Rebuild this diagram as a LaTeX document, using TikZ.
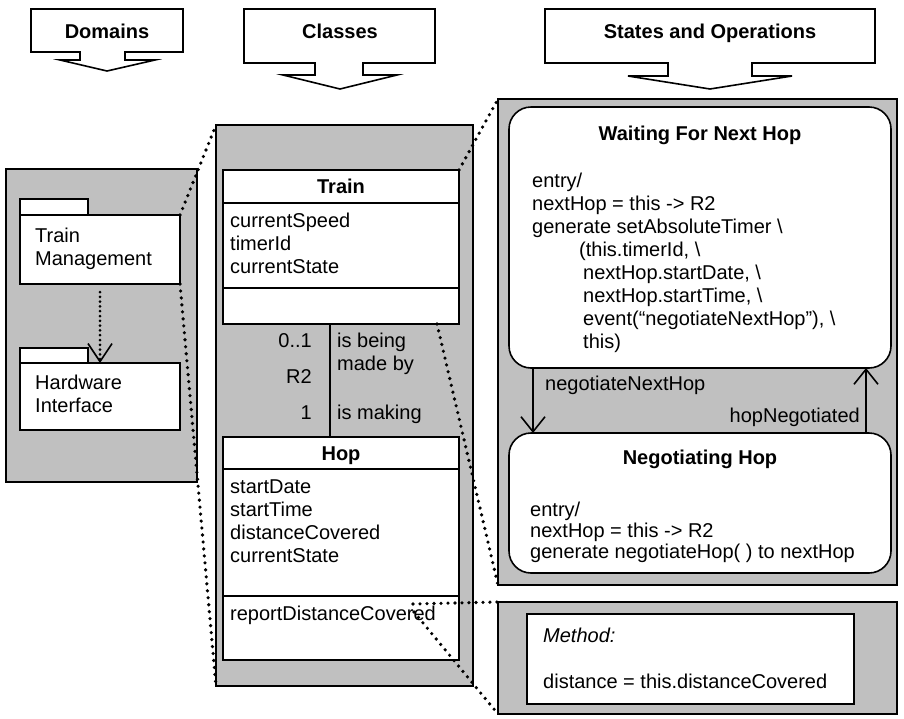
\documentclass[tikz,border=0pt]{standalone}
\usepackage{fontspec}
\setmainfont{Liberation Sans}
\usetikzlibrary{arrows.meta}
\definecolor{panelgray}{RGB}{192,192,192}
\begin{document}
\begin{tikzpicture}[x=1pt,y=-1pt,
  ln/.style={line width=1.6pt},
  panel/.style={ln, draw=black, fill=panelgray, anchor=north west, inner sep=0pt, outer sep=0pt},
  wbox/.style={ln, draw=black, fill=white, anchor=north west, inner sep=0pt, outer sep=0pt},
  statebox/.style={wbox, rounded corners=22pt},
  txt/.style={font=\fontsize{20}{23}\selectfont, inner sep=0pt, anchor=base west},
  rtxt/.style={txt, anchor=base east},
  btxt/.style={font=\fontsize{20}{23}\selectfont\bfseries, inner sep=0pt, anchor=base},
  dots/.style={line width=3.6pt, dash pattern=on 0pt off 7pt, line cap=round},
  depdots/.style={line width=3pt, dash pattern=on 0pt off 4.8pt, line cap=round,
     -{Straight Barb[length=18pt,width=24pt,line width=1.6pt]}},
  barb/.style={ln, -{Straight Barb[length=15pt,width=24pt,line width=1.6pt]}},
  blockarrow/.style={ln, draw=black, fill=white},
]
\useasboundingbox (0,0) rectangle (904,718);

% ---------- header block arrows ----------
\draw[blockarrow] (31,9) -- (183,9) -- (183,52) -- (125,52) -- (125,60) -- (155,60) -- (107,71)
  -- (60,60) -- (80,60) -- (80,52) -- (31,52) -- cycle;
\node[btxt] (hdom) at (107,38) {Domains};
\draw[blockarrow] (244,9) -- (435,9) -- (435,63) -- (363,63) -- (363,75) -- (397,75) -- (340,89)
  -- (283,75) -- (315,75) -- (315,63) -- (244,63) -- cycle;
\node[btxt] (hcls) at (340,38) {Classes};
\draw[blockarrow] (545,9) -- (875,9) -- (875,63) -- (752,63) -- (752,76) -- (792,76) -- (710,89)
  -- (628,76) -- (668,76) -- (668,63) -- (545,63) -- cycle;
\node[btxt] (hsto) at (710,38) {States and Operations};

% ---------- panels ----------
\node[panel, minimum width=191pt, minimum height=313pt] (dompanel) at (6,169) {};
\node[panel, minimum width=257pt, minimum height=561pt] (clspanel) at (216,125) {};
\node[panel, minimum width=399pt, minimum height=486pt] (stpanel) at (498,99) {};
\node[panel, minimum width=399pt, minimum height=112pt] (mpanel) at (498,602) {};

% ---------- domains ----------
\node[wbox, minimum width=68pt, minimum height=16pt] (tmtab) at (20,199) {};
\node[wbox, minimum width=160pt, minimum height=69pt] (tm) at (20,215) {};
\node[txt] (tmt1) at (35,242) {Train};
\node[txt] (tmt2) at (35,265) {Management};
\node[wbox, minimum width=68pt, minimum height=15pt] (hwtab) at (20,348) {};
\node[wbox, minimum width=160pt, minimum height=67pt] (hw) at (20,363) {};
\node[txt] (hwt1) at (35,389) {Hardware};
\node[txt] (hwt2) at (35,412) {Interface};
\draw[depdots] ([yshift=-8pt]tm.south) -- (hw.north);

% ---------- classes ----------
\node[wbox, minimum width=236pt, minimum height=154pt] (train) at (223,170) {};
\draw[ln] (223,203) -- (459,203);
\draw[ln] (223,288) -- (459,288);
\node[btxt] (traint) at (341,193) {Train};
\node[txt] (ta1) at (230,227) {currentSpeed};
\node[txt] (ta2) at (230,250) {timerId};
\node[txt] (ta3) at (230,273) {currentState};

\node[wbox, minimum width=236pt, minimum height=223pt] (hop) at (223,437) {};
\draw[ln] (223,469) -- (459,469);
\draw[ln] (223,596) -- (459,596);
\node[btxt] (hopt) at (341,460) {Hop};
\node[txt] (ha1) at (230,493) {startDate};
\node[txt] (ha2) at (230,516) {startTime};
\node[txt] (ha3) at (230,539) {distanceCovered};
\node[txt] (ha4) at (230,562) {currentState};
\node[txt] (hop1) at (230,620) {reportDistanceCovered};

\draw[ln] (330,0 |- train.south) -- (330,0 |- hop.north);
\node[rtxt] (m1) at (312,347) {0..1};
\node[rtxt] (r2) at (312,383) {R2};
\node[rtxt] (m2) at (312,419) {1};
\node[txt] (p1a) at (337,347) {is being};
\node[txt] (p1b) at (337,370) {made by};
\node[txt] (p2) at (337,419) {is making};

% ---------- states ----------
\node[statebox, minimum width=382pt, minimum height=261pt] (waiting) at (509,107) {};
\node[btxt] (wt) at (700,140) {Waiting For Next Hop};
\node[txt] at (532,187) {entry/};
\node[txt] at (532,210) {nextHop = this -> R2};
\node[txt] at (532,233) {generate setAbsoluteTimer \textbackslash};
\node[txt] at (579,256) {(this.timerId, \textbackslash};
\node[txt] at (583,279) {nextHop.startDate, \textbackslash};
\node[txt] at (583,302) {nextHop.startTime, \textbackslash};
\node[txt] at (583,325) {event(“negotiateNextHop”), \textbackslash};
\node[txt] at (583,348) {this)};

\node[statebox, minimum width=382pt, minimum height=140pt] (negot) at (509,433) {};
\node[btxt] (nt) at (700,464) {Negotiating Hop};
\node[txt] at (530,516) {entry/};
\node[txt] at (530,537) {nextHop = this -> R2};
\node[txt] at (530,558) {generate negotiateHop( ) to nextHop};

\draw[barb] (533,0 |- waiting.south) -- (533,0 |- negot.north);
\node[txt] (e1) at (545,390) {negotiateNextHop};
\draw[barb] (866,0 |- negot.north) -- (866,0 |- waiting.south);
\node[rtxt] (e2) at (860,422) {hopNegotiated};

% ---------- method ----------
\node[wbox, minimum width=327pt, minimum height=90pt] (mbox) at (527,614) {};
\node[txt, font=\fontsize{20}{23}\selectfont\itshape] (mt) at (543,642) {Method:};
\node[txt] (mcode) at (543,688) {distance = this.distanceCovered};

% ---------- dotted zoom connectors ----------
\coordinate (tsb) at (437,324);
\coordinate (ops1) at (413,604);
\coordinate (ops2) at (414,612);
\draw[dots] (tm.north east) -- (clspanel.north west);
\draw[dots] (tm.south east) -- (clspanel.south west);
\draw[dots] (train.north east) -- (stpanel.north west);
\draw[dots] (tsb) -- (stpanel.south west);
\draw[dots] (ops1) -- (mpanel.north west);
\draw[dots] (ops2) -- (mpanel.south west);
\end{tikzpicture}
\end{document}
